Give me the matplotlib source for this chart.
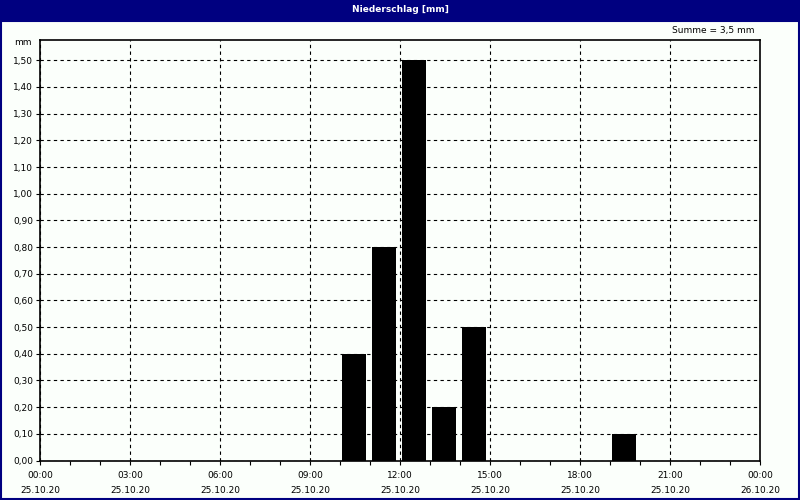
import matplotlib
matplotlib.use("Agg")
import matplotlib.pyplot as plt
from matplotlib.patches import Rectangle

hours = [10, 11, 12, 13, 14, 19]
values = [0.4, 0.8, 1.5, 0.2, 0.5, 0.1]
tick_hours = [0, 3, 6, 9, 12, 15, 18, 21, 24]
tick_labels = ["00:00\n25.10.20", "03:00\n25.10.20", "06:00\n25.10.20", "09:00\n25.10.20",
               "12:00\n25.10.20", "15:00\n25.10.20", "18:00\n25.10.20", "21:00\n25.10.20",
               "00:00\n26.10.20"]
y_ticks = [i / 10 for i in range(16)]
y_labels = [f"{v:.2f}".replace(".", ",") for v in y_ticks]
title = "Niederschlag [mm]"
summe = "Summe = 3,5 mm"

bg = "#fbfffb"
navy = "#000080"
plt.rcParams['font.family'] = ['DejaVu Sans']
fs = 6.5

fig = plt.figure(figsize=(8, 5), dpi=100, facecolor=bg)
# title bar and border
fig.patches.append(Rectangle((0, 1 - 21/500), 1, 21/500, transform=fig.transFigure,
                             facecolor=navy, edgecolor='none', zorder=0))
fig.patches.append(Rectangle((0.5/800, 1.5/500), 1 - 2/800, 1 - 21/500 - 1.5/500,
                             transform=fig.transFigure, facecolor='none',
                             edgecolor=navy, linewidth=1.5, zorder=0))
fig.text(0.5, 1 - 10/500, title, color='white', fontweight='bold', fontsize=fs,
         ha='center', va='center')
fig.text(755/800, 1 - 31/500, summe, fontsize=fs, ha='right', va='center')

ax = fig.add_axes([40/800, 39.5/500, 720/800, 420.5/500])
ax.set_facecolor(bg)
ax.bar([h + 0.05 for h in hours], values, width=0.8, align='edge', color='black', zorder=3)
ax.set_xlim(0, 24)
ax.set_ylim(0, 1.576)
ax.set_xticks(tick_hours)
ax.set_xticklabels(tick_labels, fontsize=fs, linespacing=1.8)
ax.set_xticks(range(25), minor=True)
ax.set_yticks(y_ticks)
ax.set_yticklabels(y_labels, fontsize=fs)
ax.tick_params(axis='x', which='both', length=3, width=0.8, pad=4.5)
ax.tick_params(axis='y', length=3, width=0.8, pad=2)
ax.grid(True, which='major', color='black', linestyle=(0, (3, 3)), linewidth=0.8, zorder=1)
for s in ax.spines.values():
    s.set_color('black')
    s.set_linewidth(1.2)
ax.text(-0.012, 1.565, "mm", fontsize=fs, ha='right', va='center',
        transform=ax.get_yaxis_transform())

fig.savefig("out.png", dpi=100, facecolor=bg)
